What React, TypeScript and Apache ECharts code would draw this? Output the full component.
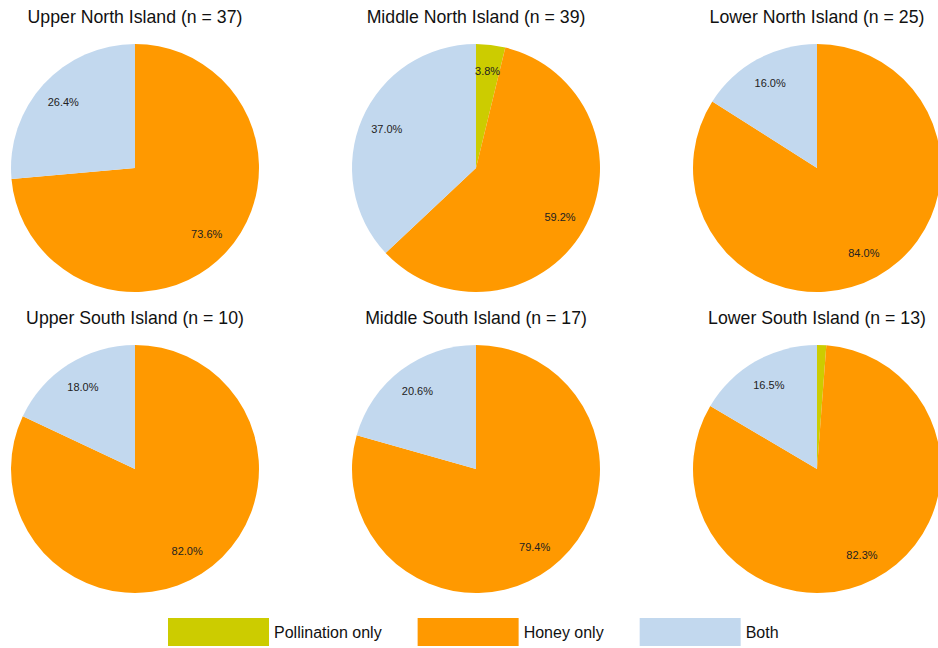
import React, { useEffect, useRef } from "react";
import * as echarts from "echarts";

const categories = ["Pollination only", "Honey only", "Both"];
const regions = [
  "Upper North Island",
  "Middle North Island",
  "Lower North Island",
  "Upper South Island",
  "Middle South Island",
  "Lower South Island",
];
const sampleSizes = [37, 39, 25, 10, 17, 13];
const pollinationOnly = [0, 3.8, 0, 0, 0, 1.2];
const honeyOnly = [73.6, 59.2, 84.0, 82.0, 79.4, 82.3];
const both = [26.4, 37.0, 16.0, 18.0, 20.6, 16.5];

const colors = ["#CCCC00", "#FF9900", "#C2D8EE"];
const FONT = '"Liberation Sans", Arial, Helvetica, sans-serif';

const centersX = [135, 476, 817];
const centersY = [168, 469];
const titleY = [17, 318];
const R = 124;

export default function App() {
  const ref = useRef<HTMLDivElement>(null);
  useEffect(() => {
    if (!ref.current) return;
    const chart = echarts.init(ref.current, undefined, { renderer: "svg" });
    const series: any[] = [];
    const labelSeries: any[] = [];
    const graphics: any[] = [];
    regions.forEach((region, i) => {
      const cx = centersX[i % 3];
      const cy = centersY[Math.floor(i / 3)];
      const data = categories.map((name, k) => ({
        name,
        value: [pollinationOnly, honeyOnly, both][k][i],
        itemStyle: { color: colors[k] },
      }));
      series.push({
        type: "pie",
        center: [cx, cy],
        radius: [0, R],
        startAngle: 90,
        clockwise: true,
        label: { show: false },
        labelLine: { show: false },
        itemStyle: { borderWidth: 0 },
        emphasis: { disabled: true },
        silent: true,
        data,
      });
      labelSeries.push({
        type: "pie",
        center: [cx, cy],
        radius: [R * 0.52, R],
        startAngle: 90,
        clockwise: true,
        silent: true,
        legendHoverLink: false,
        emphasis: { disabled: true },
        itemStyle: { color: "rgba(0,0,0,0)", borderWidth: 0 },
        labelLine: { show: false },
        label: {
          show: true,
          position: "inside",
          color: "#222222",
          fontSize: 11,
          fontFamily: FONT,
          formatter: (p: any) => (p.value < 2 ? "" : `${Number(p.value).toFixed(1)}%`),
        },
        data: data.map((d) => ({ name: d.name, value: d.value })),
      });
      graphics.push({
        type: "text",
        x: cx,
        y: titleY[Math.floor(i / 3)],
        style: {
          text: `${region} (n = ${sampleSizes[i]})`,
          font: `17.7px ${FONT}`,
          fill: "#111111",
          align: "center",
          verticalAlign: "middle",
        },
      });
    });
    chart.setOption({
      animation: false,
      backgroundColor: "#ffffff",
      legend: {
        data: categories.map((name, k) => ({ name, itemStyle: { color: colors[k] } })),
        left: 168,
        top: 618,
        padding: 0,
        icon: "rect",
        itemWidth: 101,
        itemHeight: 28,
        itemGap: 36,
        selectedMode: false,
        textStyle: { fontSize: 16, fontFamily: FONT, color: "#111111" },
      },
      graphic: graphics,
      series: [...series, ...labelSeries],
    });
    return () => chart.dispose();
  }, []);
  return (
    <div
      ref={ref}
      style={{ position: "fixed", left: 0, top: 0, width: 938, height: 648, background: "#fff" }}
    />
  );
}
